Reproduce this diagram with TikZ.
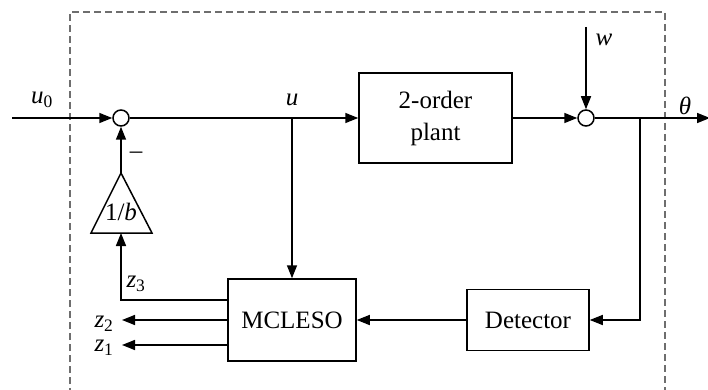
\documentclass[tikz,border=0pt]{standalone}
\usepackage{fontspec}
\setmainfont{Liberation Serif}
\usepackage{tikz}
\usetikzlibrary{arrows.meta,calc}
\definecolor{boxgray}{RGB}{110,110,110}

\begin{document}
\begin{tikzpicture}[x=1pt,y=-1pt,>={Triangle[length=13pt,width=10pt]},line width=1.5pt,
    font=\fontsize{25}{32}\selectfont,
    block/.style={draw,rectangle,inner sep=0pt,align=center},
    sumnode/.style={draw,circle,fill=white,minimum size=16pt,inner sep=0pt}]
    \useasboundingbox (0,0) rectangle (708,390);
    
    % Frame
    \draw[boxgray,dashed,line width=1.2pt,dash pattern=on 7pt off 4pt] (70,395)--(70,12)--(665,12)--(665,395);
    
    % Blocks
    \node[block,minimum width=153pt,minimum height=90pt] (plant) at (435.5,118) {2-order\\plant};
    \node[block,minimum width=128pt,minimum height=82pt] (mcleso) at (292,320) {MCLESO};
    \node[block,minimum width=122pt,minimum height=61pt] (det) at (528,320) {Detector};
    \node[sumnode] (s1) at (121,118) {};
    \node[sumnode] (s2) at (586,118) {};
    
    % Gain 1/b
    \coordinate (gapex) at (121,173);
    \coordinate (gbase) at (121,233);
    \draw (gapex)--(91,233)--(152,233)--cycle;
    \node (gain) at (121,212) {1/\textit{b}};
    
    \coordinate (in) at (12,118);
    \coordinate (bu) at (292,118);
    \coordinate (win) at (586,27);
    \coordinate (bt) at (640,118);
    \coordinate (out) at (710,118);
    \coordinate (z2end) at (122,320);
    \coordinate (z1end) at (122,345);
    
    % Signals
    \draw[->] (in) -- (s1.west);
    \draw[->] (s1.east) -- (plant.west);
    \draw[->] (bu) -- (mcleso.north);
    \draw[->] (plant.east) -- (s2.west);
    \draw[->] (win) -- (s2.north);
    \draw[->] (s2.east) -- (out);
    \draw[->] (bt) |- (det.east);
    \draw[->] (det.west) -- (mcleso.east);
    \draw[->] (gapex) -- (s1.south);
    \draw[->] ([yshift=20pt]mcleso.west) -| (gbase);
    \draw[->] (mcleso.west) -- (z2end);
    \draw[->] ([yshift=-25pt]mcleso.west) -- (z1end);
    
    % Labels
    \node (lu0) at (42,100) {\textit{u}\textsubscript{0}};
    \node (lu) at (292,100) {\textit{u}};
    \node (lw) at (604,40) {\textit{w}};
    \node (lth) at (685,106) {\textit{θ}};
    \node (lminus) at (136,155) {–};
    \node (lz3) at (136,284) {\textit{z}\textsubscript{3}};
    \node (lz2) at (104,324) {\textit{z}\textsubscript{2}};
    \node (lz1) at (104,348) {\textit{z}\textsubscript{1}};
\end{tikzpicture}
\end{document}
